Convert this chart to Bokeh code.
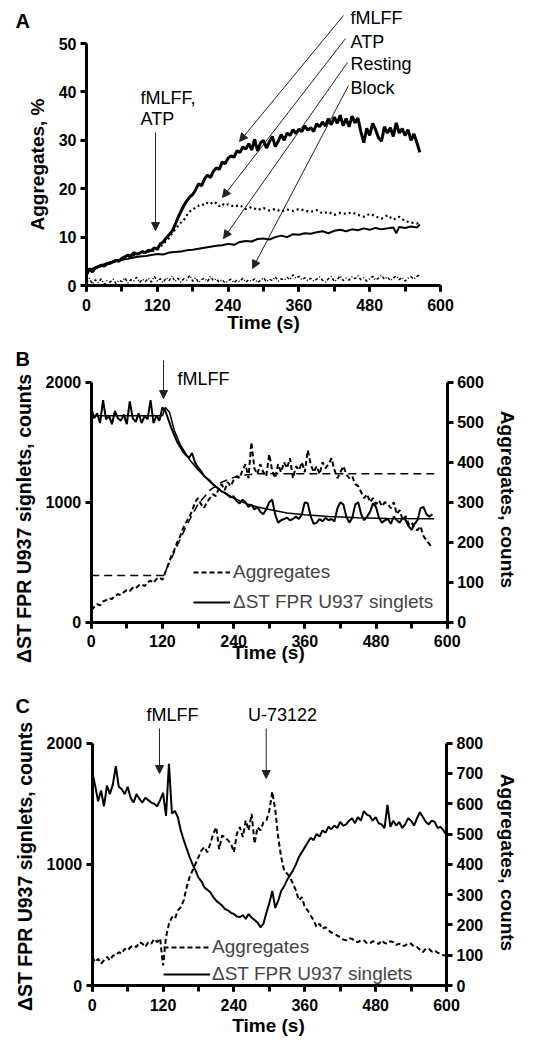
import math
from bokeh.plotting import figure
from bokeh.models import (Range1d, LinearAxis, SingleIntervalTicker, Label, Arrow,
                          NormalHead, Legend, LegendItem)
from bokeh.layouts import column
from bokeh.embed import file_html
from bokeh.resources import INLINE

FONT = "Liberation Sans"

# ---------------- Panel A data (Aggregates, %) ----------------
a_time = list(range(0, 570, 5))
a_fmlff = [2.2, 3.5, 2.8, 3.6, 3.9, 4.2, 4.0, 4.5, 4.6, 4.9,
           5.2, 5.0, 5.6, 5.9, 6.3, 6.0, 6.8, 6.5, 6.7, 7.0,
           6.8, 7.3, 7.2, 7.8, 7.5, 8.6, 9.0, 9.8, 10.5, 11.2,
           12.5, 14.0, 15.3, 16.5, 17.5, 18.3, 18.8, 19.8, 21.0, 20.6,
           22.0, 22.8, 22.3, 23.6, 24.3, 24.0, 25.5, 25.2, 26.3, 26.8,
           26.5, 27.8, 27.5, 28.6, 28.2, 29.3, 28.0, 30.2, 27.8, 29.5,
           30.0, 28.4, 29.7, 30.8, 28.7, 29.8, 31.2, 30.0, 31.5, 31.0,
           32.2, 31.4, 32.3, 31.8, 33.0, 32.1, 32.6, 31.8, 33.4, 32.8,
           33.8, 32.9, 34.5, 33.2, 34.8, 33.5, 35.2, 33.0, 34.5, 32.8,
           35.0, 33.6, 34.6, 31.8, 29.5, 32.5, 31.0, 33.5, 32.2, 30.5,
           29.8, 32.8, 31.5, 32.6, 30.8, 33.6, 31.5, 32.4, 31.0, 32.2,
           30.0, 31.3, 29.5, 27.5]
a_atp_time = [0, 10, 20, 30, 40, 50, 60, 70, 80, 90, 100, 110, 120, 130, 140,
              145, 150, 155, 160, 165, 170, 175, 180, 185, 190, 195, 200, 205, 210,
              215, 220, 225, 230, 235, 240,
              250, 260, 270, 280, 290, 300, 310, 320, 330, 340, 350, 360, 370, 380,
              390, 400, 410, 420, 430, 440, 450, 460, 470, 480, 490, 500, 510, 520,
              530, 540, 550, 560, 565]
a_atp = [2.5, 3.2, 3.8, 4.2, 4.6, 5.0, 5.4, 5.9, 6.2, 6.6, 6.9, 7.1, 7.4, 8.6, 9.8,
         10.8, 11.5, 12.3, 13.0, 13.5, 14.5, 15.3, 15.6, 16.2, 16.5, 16.8, 16.6, 17.1, 16.8,
         17.3, 17.0, 16.4, 16.9, 16.5, 16.8,
         16.3, 16.6, 15.8, 16.2, 15.6, 16.0, 15.5, 15.8, 15.3, 15.7, 15.4, 15.8, 15.5, 15.2,
         15.6, 14.9, 15.2, 14.6, 15.0, 14.8, 15.1, 14.6, 14.2, 14.8, 14.3, 13.8, 14.5, 13.6,
         14.2, 13.3, 13.0, 12.8, 13.2]
a_rest_time = [0, 10, 20, 30, 40, 50, 60, 70, 80, 90, 100, 110, 120, 130, 140, 150,
               160, 170, 180, 190, 200, 210, 220, 230, 240, 250, 260, 270, 280, 290,
               300, 310, 320, 330, 340, 350, 360, 370, 380, 390, 400, 410, 420, 430,
               440, 450, 460, 470, 480, 490, 500, 510, 520, 525, 530, 540, 550, 560, 565]
a_rest = [2.8, 3.5, 4.0, 4.4, 4.8, 5.1, 5.3, 5.5, 5.8, 6.0,
          6.1, 6.3, 6.5, 6.4, 6.8, 6.9, 7.0, 7.3, 7.4, 7.6,
          7.8, 8.0, 8.2, 8.3, 8.6, 8.4, 9.0, 9.2, 9.1, 9.6,
          9.7, 9.5, 10.0, 10.3, 10.0, 10.6, 10.5, 10.8, 10.7, 11.0,
          11.2, 10.8, 11.3, 11.5, 11.2, 11.6, 11.4, 11.8, 11.5, 11.9,
          11.6, 11.8, 12.0, 10.8, 12.1, 11.9, 12.2, 12.0, 12.6]
a_block = [0.5, 1.5, 0.3, 1.2, 0.6, 1.4, 0.2, 1.0, 0.7, 1.3,
           0.4, 1.1, 0.8, 1.6, 0.5, 1.2, 0.9, 1.7, 0.6, 1.3,
           0.8, 1.5, 0.7, 1.9, 0.9, 1.4, 0.6, 1.6, 1.0, 2.0,
           0.8, 1.5, 0.7, 1.4, 1.1, 2.1, 0.9, 1.6, 0.6, 1.2,
           1.5, 0.8, 1.9, 1.0, 1.4, 0.7, 1.2, 0.5, 1.0, 1.3,
           0.6, 1.1, 0.8, 1.5, 0.7, 1.2, 0.9, 1.4, 0.6, 1.1,
           1.6, 0.8, 1.3, 1.0, 1.8, 0.9, 1.4, 1.1, 1.7, 1.2,
           2.2, 1.5, 1.9, 1.2, 1.6, 1.0, 1.5, 0.9, 1.3, 1.8,
           1.1, 0.7, 1.4, 1.9, 0.8, 1.2, 2.0, 1.0, 1.5, 1.1,
           1.8, 1.4, 2.0, 1.2, 1.6, 0.9, 1.4, 1.9, 1.1, 1.5,
           2.1, 1.3, 1.8, 1.0, 1.5, 2.0, 1.2, 1.7, 0.9, 1.5,
           1.8, 1.3, 1.9, 2.2]

# ---------------- Panel B data ----------------
b_time = list(range(0, 580, 5))
b_singlets = [1790, 1700, 1740, 1660, 1850, 1690, 1720, 1650, 1760, 1700,
              1680, 1730, 1650, 1840, 1700, 1670, 1740, 1660, 1720, 1690,
              1850, 1660, 1720, 1680, 1790, 1760, 1690, 1620, 1560, 1500,
              1460, 1420, 1390, 1370, 1410, 1330, 1290, 1260, 1220, 1200,
              1180, 1150, 1130, 1110, 1090, 1080, 1060, 1040, 1050, 1010,
              990, 1020, 1000, 960, 980, 940, 960, 920, 900, 940,
              1000, 1020, 900, 830, 850, 860, 870, 850, 860, 880,
              860, 900, 1000, 990, 880, 820, 830, 860, 840, 870,
              850, 860, 840, 950, 1000, 980, 880, 830, 870, 980,
              1000, 900, 850, 880, 920, 990, 960, 870, 830, 850,
              860, 820, 880, 850, 830, 870, 850, 800, 770, 820,
              850, 950, 960, 900, 880, 900]
b_aggregates = [30, 38, 45, 42, 52, 55, 60, 58, 66, 70,
                68, 75, 80, 78, 86, 84, 92, 95, 90, 100,
                104, 98, 108, 112, 106, 125, 145, 165, 180, 200,
                215, 235, 250, 262, 278, 300, 310, 295, 285, 300,
                310, 320, 315, 335, 345, 330, 350, 340, 355, 365,
                360, 380, 395, 360, 450, 385, 370, 395, 375, 365,
                420, 380, 360, 395, 375, 400, 385, 410, 360, 390,
                380, 400, 375, 430, 395, 375, 390, 370, 400, 385,
                395, 410, 380, 360, 375, 390, 370, 360, 365, 345,
                340, 325, 310, 320, 300, 310, 295, 305, 290, 300,
                295, 285, 300, 270, 280, 255, 265, 245, 250, 235,
                230, 240, 215, 205, 195, 185]
b_fit_sing_time = [0, 120, 125, 132, 140, 150, 165, 180, 200, 220, 240, 260, 280, 300,
                   330, 360, 400, 450, 500, 578]
b_fit_sing = [1720, 1720, 1790, 1750, 1600, 1480, 1360, 1270, 1170, 1090, 1035, 990,
              960, 940, 910, 895, 880, 870, 865, 862]
b_fit_agg_time = [0, 122, 140, 160, 180, 200, 220, 240, 260, 280, 578]
b_fit_agg = [117, 117, 175, 240, 295, 330, 350, 362, 368, 371, 371]

# ---------------- Panel C data ----------------
c_time = list(range(0, 605, 5))
c_singlets = [1770, 1650, 1520, 1610, 1480, 1650, 1580, 1660, 1810, 1640,
              1620, 1580, 1640, 1550, 1510, 1580, 1540, 1510, 1550, 1530,
              1510, 1500, 1480, 1530, 1590, 1400, 1830, 1420, 1440, 1390,
              1280, 1200, 1130, 1060, 1000, 950, 890, 860, 810, 790,
              770, 730, 700, 680, 660, 630, 620, 600, 590, 570,
              565, 580, 550, 590, 560, 540, 520, 480, 510, 600,
              680, 780, 640, 700, 780, 820, 870, 910, 950, 1000,
              1060, 1100, 1140, 1180, 1220, 1200, 1250, 1230, 1280, 1260,
              1310, 1290, 1320, 1300, 1350, 1320, 1330, 1360, 1380, 1340,
              1390, 1360, 1440, 1410, 1400, 1360, 1390, 1340, 1330, 1300,
              1490, 1310, 1360, 1320, 1350, 1300, 1330, 1380, 1360, 1320,
              1380, 1430, 1390, 1350, 1330, 1360, 1350, 1300, 1310, 1280,
              1240]
c_aggregates = [94, 77, 88, 72, 83, 94, 83, 99, 99, 110,
                105, 121, 116, 127, 132, 127, 143, 138, 127, 143,
                138, 154, 143, 155, 66, 160, 204, 226, 220, 248,
                259, 281, 325, 358, 380, 402, 424, 446, 457, 440,
                468, 501, 523, 450, 495, 490, 479, 468, 440, 501,
                523, 490, 545, 512, 567, 468, 523, 512, 539, 545,
                578, 640, 580, 490, 424, 380, 369, 358, 336, 314,
                281, 292, 259, 248, 231, 215, 193, 204, 187, 193,
                182, 175, 171, 165, 160, 152, 149, 156, 154, 145,
                143, 150, 149, 140, 138, 146, 143, 137, 149, 140,
                138, 146, 143, 134, 138, 130, 132, 140, 138, 128,
                127, 118, 110, 122, 121, 112, 116, 108, 105, 100,
                99]

for t, v in [(a_time, a_fmlff), (a_atp_time, a_atp), (a_rest_time, a_rest), (a_time, a_block),
             (b_time, b_singlets), (b_time, b_aggregates), (b_fit_sing_time, b_fit_sing),
             (b_fit_agg_time, b_fit_agg), (c_time, c_singlets), (c_time, c_aggregates)]:
    assert len(t) == len(v), (len(t), len(v))

PAGE_X = 0      # Bokeh's page template has no body margin
FIG_W = 536


class Geo:
    """Pixel geometry of one panel (page coordinates) -> data ranges."""
    def __init__(self, top, height, x0, x1, y0, y1, ymax):
        self.top, self.h = top, height
        self.x0, self.y0 = x0, y0
        self.sx = (x1 - x0) / 600.0
        self.sy = (y0 - y1) / float(ymax)
        self.ymax = ymax

    def t(self, px):
        return (px - self.x0) / self.sx

    def v(self, py):
        return (self.y0 - py) / self.sy

    def x_range(self):
        return Range1d(self.t(PAGE_X), self.t(PAGE_X + FIG_W))

    def y_range(self, vmax=None):
        k = 1.0 if vmax is None else vmax / float(self.ymax)
        return Range1d(self.v(self.top + self.h) * k, self.v(self.top) * k)


def style_axis(ax, interval, minor, bounds, tick_standoff=4):
    ax.ticker = SingleIntervalTicker(interval=interval, num_minor_ticks=minor)
    ax.bounds = bounds
    ax.axis_line_width = 3
    ax.axis_line_color = "black"
    ax.major_tick_line_width = 3
    ax.major_tick_line_color = "black"
    ax.major_tick_out = 6
    ax.major_tick_in = 0
    ax.minor_tick_line_width = 3
    ax.minor_tick_line_color = "black"
    ax.minor_tick_out = 6 if minor else 0
    ax.minor_tick_in = 0
    ax.major_label_text_font = FONT
    ax.major_label_text_font_style = "bold"
    ax.major_label_text_font_size = "16px"
    ax.major_label_text_color = "black"
    ax.major_label_standoff = tick_standoff


def make_fig(g):
    p = figure(frame_width=FIG_W, frame_height=g.h, min_border=0,
               min_border_left=0, min_border_right=0, min_border_top=0, min_border_bottom=0,
               x_range=g.x_range(), y_range=g.y_range(),
               output_backend="svg", toolbar_location=None, tools="")
    p.grid.visible = False
    p.outline_line_color = None
    p.xaxis.fixed_location = 0
    p.yaxis.fixed_location = 0
    return p


def text(p, g, px, py, s, size="18px", align="left", bold=False, angle=0.0):
    p.add_layout(Label(x=g.t(px), y=g.v(py), text=s, text_font=FONT, text_font_size=size,
                       text_align=align, text_baseline="middle", text_color="black",
                       text_font_style="bold" if bold else "normal", angle=angle))


def arrow(p, g, px0, py0, px1, py1):
    p.add_layout(Arrow(end=NormalHead(size=8, fill_color="#222222", line_color="#222222"),
                       x_start=g.t(px0), y_start=g.v(py0), x_end=g.t(px1), y_end=g.v(py1),
                       line_width=1, line_color="#222222"))


UP = math.pi / 2
DOWN = -math.pi / 2

# ---------------- Panel A ----------------
gA = Geo(top=0, height=338, x0=86, x1=440, y0=285, y1=43, ymax=50)
pA = make_fig(gA)
style_axis(pA.xaxis[0], 120, 2, (0, 600), tick_standoff=7)
style_axis(pA.yaxis[0], 10, 0, (0, 50))
pA.line(a_time, a_fmlff, line_width=3, color="black")
pA.line(a_atp_time, a_atp, line_width=2.2, line_dash="2 3", color="black")
pA.line(a_rest_time, a_rest, line_width=2, color="black")
pA.line(a_time, a_block, line_width=1.5, line_dash="3 2 1 2", color="black")

text(pA, gA, 15, 20, "A", size="20px", bold=True)
text(pA, gA, 37, 164, "Aggregates, %", size="19px", align="center", bold=True, angle=UP)
text(pA, gA, 263, 322, "Time (s)", size="19px", align="center", bold=True)
text(pA, gA, 140, 97, "fMLFF,")
text(pA, gA, 140, 118, "ATP")
arrow(pA, gA, 155, 132, 155, 230)
for lbl, cy in [("fMLFF", 17), ("ATP", 41), ("Resting", 63), ("Block", 87)]:
    text(pA, gA, 350, cy, lbl)
arrow(pA, gA, 343, 15, 239, 141)
arrow(pA, gA, 345, 38, 222, 197)
arrow(pA, gA, 347, 62, 223, 238)
arrow(pA, gA, 348, 85, 252, 268)

# ---------------- Panel B ----------------
gB = Geo(top=338, height=330, x0=90.7, x1=446.7, y0=621.7, y1=381.7, ymax=2000)
pB = make_fig(gB)
pB.extra_y_ranges = {"agg": gB.y_range(600)}
style_axis(pB.xaxis[0], 120, 2, (0, 600), tick_standoff=7)
style_axis(pB.yaxis[0], 1000, 0, (0, 2000))
axB = LinearAxis(y_range_name="agg", fixed_location=600)
style_axis(axB, 100, 0, (0, 600))
pB.add_layout(axB, "right")

pB.line(b_fit_agg_time, b_fit_agg, y_range_name="agg", line_width=1.5,
        line_dash="8 5", color="black")
rB_agg = pB.line(b_time, b_aggregates, y_range_name="agg", line_width=2, line_dash="5 3",
                 color="black")
pB.line(b_fit_sing_time, b_fit_sing, line_width=1.5, color="black")
rB_sing = pB.line(b_time, b_singlets, line_width=2, color="black")

legB = Legend(items=[LegendItem(label="Aggregates", renderers=[rB_agg]),
                     LegendItem(label="\u0394ST FPR U937 singlets", renderers=[rB_sing])],
              location=(193, 55), glyph_width=37, glyph_height=20, label_height=20,
              label_standoff=3, spacing=8, padding=0, margin=0,
              border_line_alpha=0, background_fill_alpha=0,
              label_text_font=FONT, label_text_font_size="19px")
pB.add_layout(legB)

text(pB, gB, 15, 358, "B", size="20px", bold=True)
text(pB, gB, 23, 518, "\u0394ST FPR U937 signlets, counts", size="19.5px", align="center",
     bold=True, angle=UP)
text(pB, gB, 507, 499, "Aggregates, counts", size="19px", align="center", bold=True,
     angle=DOWN)
text(pB, gB, 268, 652, "Time (s)", size="19px", align="center", bold=True)
text(pB, gB, 177, 378, "fMLFF")
arrow(pB, gB, 163, 360, 163, 398)

# ---------------- Panel C ----------------
gC = Geo(top=668, height=377, x0=91.7, x1=446, y0=985, y1=742.7, ymax=2000)
pC = make_fig(gC)
pC.extra_y_ranges = {"agg": gC.y_range(800)}
style_axis(pC.xaxis[0], 120, 2, (0, 600), tick_standoff=7)
style_axis(pC.yaxis[0], 1000, 0, (0, 2000))
axC = LinearAxis(y_range_name="agg", fixed_location=600)
style_axis(axC, 100, 0, (0, 800))
pC.add_layout(axC, "right")

rC_agg = pC.line(c_time, c_aggregates, y_range_name="agg", line_width=2, line_dash="5 3",
                 color="black")
rC_sing = pC.line(c_time, c_singlets, line_width=2, color="black")

legC = Legend(items=[LegendItem(label="Aggregates", renderers=[rC_agg]),
                     LegendItem(label="\u0394ST FPR U937 singlets", renderers=[rC_sing])],
              location=(163, 60), glyph_width=47, glyph_height=20, label_height=20,
              label_standoff=2, spacing=5, padding=0, margin=0,
              border_line_alpha=0, background_fill_alpha=0,
              label_text_font=FONT, label_text_font_size="19px")
pC.add_layout(legC)

text(pC, gC, 15, 705, "C", size="20px", bold=True)
text(pC, gC, 24, 866, "\u0394ST FPR U937 signlets, counts", size="19.5px", align="center",
     bold=True, angle=UP)
text(pC, gC, 507, 862, "Aggregates, counts", size="19px", align="center", bold=True,
     angle=DOWN)
text(pC, gC, 268, 1025, "Time (s)", size="19px", align="center", bold=True)
text(pC, gC, 172, 714, "fMLFF", align="center")
text(pC, gC, 282, 714, "U-73122", align="center")
arrow(pC, gC, 159, 728, 159, 773)
arrow(pC, gC, 265.7, 728, 265.7, 778)

layout = column(pA, pB, pC)
open("out.html", "w").write(file_html(layout, INLINE))
